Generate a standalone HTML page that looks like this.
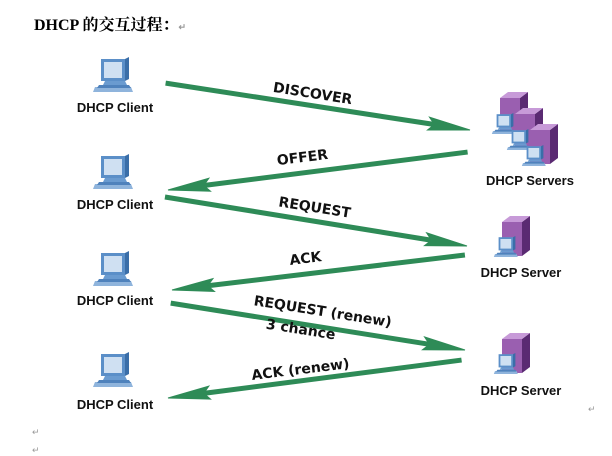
<!DOCTYPE html>
<html><head><meta charset="utf-8"><style>
body{margin:0;background:#fff;width:612px;height:456px;overflow:hidden}
svg{display:block}
.lb{font-family:"DejaVu Sans","Liberation Sans",sans-serif;font-weight:bold;font-size:14px;fill:#111}
.nm{font-family:"Liberation Sans",sans-serif;font-weight:bold;font-size:13px;fill:#111}
</style></head><body>
<svg width="612" height="456" viewBox="0 0 612 456">
<defs>
<g id="pc">
 <polygon points="6,2 30,2 30,24 6,24" fill="#5b8fc8"/>
 <polygon points="30,2 34,0 34,22 30,24" fill="#3a6ea8"/>
 <rect x="9" y="5" width="18" height="16" fill="#cfe0f2"/>
 <polygon points="10,24 30,24 32,28 8,28" fill="#6a9bd0"/>
 <polygon points="0,30 36,30 38,35 -2,35" fill="#8fb4dc"/>
 <polygon points="4,28 34,28 36,31 2,31" fill="#4f82bc"/>
</g>
<g id="srv">
 <polygon points="10,6 30,6 30,40 10,40" fill="#9a5fb0"/>
 <polygon points="30,6 38,0 38,34 30,40" fill="#5a2a72"/>
 <polygon points="10,6 18,0 38,0 30,6" fill="#c79ad8"/>
</g>
<g id="head"><polygon points="0,0 -42,-6.5 -36,0 -42,6.5" fill="#2e8b57"/></g>
</defs>
<text x="34" y="30" style="font-family:'Liberation Serif','Noto Serif CJK SC',serif;font-weight:bold;font-size:16px" fill="#000">DHCP 的交互过程：<tspan font-size="9" fill="#999">↵</tspan></text>

<g fill="#2e8b57" stroke="#2e8b57">
<g transform="translate(470,130) rotate(8.76)"><line x1="-308" y1="0" x2="-36" y2="0" stroke-width="5"/><use href="#head"/></g>
<g transform="translate(168,190) rotate(-7.22)"><line x1="-302" y1="0" x2="-36" y2="0" stroke-width="5" transform="scale(-1,1)"/><g transform="scale(-1,1)"><use href="#head"/></g></g>
<g transform="translate(467,246) rotate(9.22)"><line x1="-306" y1="0" x2="-36" y2="0" stroke-width="5"/><use href="#head"/></g>
<g transform="translate(172,290) rotate(-6.81)"><line x1="-295" y1="0" x2="-36" y2="0" stroke-width="5" transform="scale(-1,1)"/><g transform="scale(-1,1)"><use href="#head"/></g></g>
<g transform="translate(465,350) rotate(9.05)"><line x1="-298" y1="0" x2="-36" y2="0" stroke-width="5"/><use href="#head"/></g>
<g transform="translate(168,398) rotate(-7.36)"><line x1="-296" y1="0" x2="-36" y2="0" stroke-width="5" transform="scale(-1,1)"/><g transform="scale(-1,1)"><use href="#head"/></g></g>
</g>

<text class="lb" transform="translate(312,98) rotate(9)" text-anchor="middle">DISCOVER</text>
<text class="lb" transform="translate(303,162) rotate(-7)" text-anchor="middle">OFFER</text>
<text class="lb" transform="translate(314,212) rotate(9)" text-anchor="middle">REQUEST</text>
<text class="lb" transform="translate(306,263) rotate(-7)" text-anchor="middle">ACK</text>
<text class="lb" transform="translate(322,316) rotate(9)" text-anchor="middle">REQUEST (renew)</text>
<text class="lb" transform="translate(300,334) rotate(9)" text-anchor="middle">3 chance</text>
<text class="lb" transform="translate(301,374) rotate(-7)" text-anchor="middle">ACK (renew)</text>

<use href="#pc" x="95" y="57"/>
<use href="#pc" x="95" y="154"/>
<use href="#pc" x="95" y="251"/>
<use href="#pc" x="95" y="352"/>
<text class="nm" x="115" y="112" text-anchor="middle">DHCP Client</text>
<text class="nm" x="115" y="209" text-anchor="middle">DHCP Client</text>
<text class="nm" x="115" y="305" text-anchor="middle">DHCP Client</text>
<text class="nm" x="115" y="409" text-anchor="middle">DHCP Client</text>

<use href="#srv" x="490" y="92"/>
<use href="#pc" x="493" y="113" transform="translate(493,113) scale(0.6) translate(-493,-113)"/>
<use href="#srv" x="505" y="108"/>
<use href="#pc" x="508" y="129" transform="translate(508,129) scale(0.6) translate(-508,-129)"/>
<use href="#srv" x="520" y="124"/>
<use href="#pc" x="523" y="145" transform="translate(523,145) scale(0.6) translate(-523,-145)"/>
<text class="nm" x="530" y="185" text-anchor="middle">DHCP Servers</text>

<use href="#srv" x="492" y="216"/>
<use href="#pc" x="495" y="236" transform="translate(495,236) scale(0.6) translate(-495,-236)"/>
<text class="nm" x="521" y="277" text-anchor="middle">DHCP Server</text>
<use href="#srv" x="492" y="333"/>
<use href="#pc" x="495" y="353" transform="translate(495,353) scale(0.6) translate(-495,-353)"/>
<text class="nm" x="521" y="395" text-anchor="middle">DHCP Server</text>

<text x="32" y="435" font-size="9" fill="#999">↵</text>
<text x="32" y="453" font-size="9" fill="#999">↵</text>
<text x="588" y="412" font-size="9" fill="#999">↵</text>
</svg>
</body></html>
